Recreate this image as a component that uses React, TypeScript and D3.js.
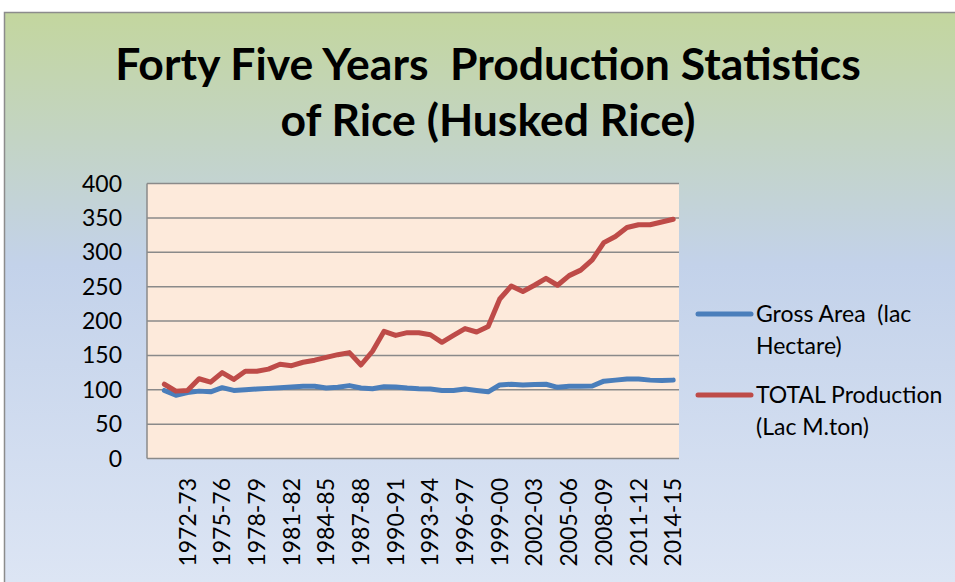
import React from "react";
import * as d3 from "d3";

const categories: string[] = [
  "", "1970-71", "1971-72", "1972-73", "1973-74", "1974-75", "1975-76", "1976-77", "1977-78",
  "1978-79", "1979-80", "1980-81", "1981-82", "1982-83", "1983-84", "1984-85", "1985-86",
  "1986-87", "1987-88", "1988-89", "1989-90", "1990-91", "1991-92", "1992-93", "1993-94",
  "1994-95", "1995-96", "1996-97", "1997-98", "1998-99", "1999-00", "2000-01", "2001-02",
  "2002-03", "2003-04", "2004-05", "2005-06", "2006-07", "2007-08", "2008-09", "2009-10",
  "2010-11", "2011-12", "2012-13", "2013-14", "2014-15",
];

const grossArea: (number | null)[] = [
  null, 99, 92, 96, 98, 97, 103, 99, 100, 101, 102, 103, 104, 105, 105, 102.5, 103.5,
  106, 102.5, 101.5, 104.5, 104, 102.5, 101.5, 101, 99, 99, 101, 99, 97, 107, 108, 107,
  107.5, 108, 103.5, 105, 105, 105.5, 112.5, 114, 115.5, 115.5, 114, 113.5, 114,
];

const totalProduction: (number | null)[] = [
  null, 108, 98, 99, 116, 111, 125, 115, 127, 127, 130, 137, 135, 140, 143, 147, 151,
  154, 136, 156, 185, 179, 183, 183, 180, 169, 179, 189, 184, 192, 232, 251, 243,
  252, 262, 252, 266, 274, 289, 314, 323, 336, 340, 340, 344, 348,
];

const yTicks: number[] = [0, 50, 100, 150, 200, 250, 300, 350, 400];

const titleLines: string[] = ["Forty Five Years  Production Statistics", "of Rice (Husked Rice)"];

const legendItems = [
  { lines: ["Gross Area  (lac", "Hectare)"], color: "#4a7ebb" },
  { lines: ["TOTAL Production", "(Lac M.ton)"], color: "#be4b48" },
];

const FONT = "Lato, 'Open Sans', sans-serif";

export default function App() {
  const W = 955;
  const H = 582;
  const plot = { left: 147, right: 679, top: 183.5, bottom: 458.5 };

  const x = d3
    .scaleBand<number>()
    .domain(categories.map((_, i) => i))
    .range([plot.left, plot.right])
    .padding(0);
  const bw = x.bandwidth();
  const y = d3.scaleLinear().domain([0, 400]).range([plot.bottom, plot.top]);

  const line = d3
    .line<number | null>()
    .defined((d) => d != null)
    .x((_, i) => (x(i) as number) + bw / 2)
    .y((d) => y(d as number));

  const series = [
    { values: grossArea, color: "#4a7ebb" },
    { values: totalProduction, color: "#be4b48" },
  ];

  return (
    <svg
      width={W}
      height={H}
      style={{ position: "absolute", left: 0, top: 0, display: "block", whiteSpace: "pre" }}
    >
      <defs>
        <linearGradient id="bg" x1="0" y1="0" x2="0" y2="1">
          <stop offset="0%" stopColor="#c3d69e" />
          <stop offset="42%" stopColor="#c3d2ea" />
          <stop offset="100%" stopColor="#dfe7f5" />
        </linearGradient>
      </defs>
      <rect x={0} y={0} width={W} height={H} fill="#ffffff" />
      <rect
        x={4.5}
        y={12.5}
        width={W + 20}
        height={H + 20}
        fill="url(#bg)"
        stroke="#8c8c8c"
        strokeWidth={1.5}
      />

      {titleLines.map((t, i) => (
        <text
          key={i}
          x={488}
          y={80 + i * 56}
          textAnchor="middle"
          fontFamily={FONT}
          fontWeight={700}
          fontSize={44.5}
          fill="#000"
          style={{ whiteSpace: "pre" }}
        >
          {t}
        </text>
      ))}

      <rect
        x={plot.left}
        y={plot.top}
        width={plot.right - plot.left}
        height={plot.bottom - plot.top}
        fill="#fdeadb"
      />
      {yTicks.map((t) => (
        <line
          key={t}
          x1={plot.left}
          x2={plot.right}
          y1={y(t)}
          y2={y(t)}
          stroke="#8a8a8a"
          strokeWidth={1.5}
        />
      ))}
      <line
        x1={plot.left}
        x2={plot.left}
        y1={plot.top}
        y2={plot.bottom}
        stroke="#8a8a8a"
        strokeWidth={1.5}
      />

      {yTicks.map((t) => (
        <text
          key={t}
          x={122}
          y={y(t)}
          dy="0.35em"
          textAnchor="end"
          fontFamily={FONT}
          fontSize={23}
          fill="#000"
        >
          {t}
        </text>
      ))}

      {categories.map((c, i) =>
        i % 3 === 0 && c ? (
          <text
            key={i}
            transform={`translate(${(x(i) as number) + bw / 2},${478}) rotate(-90)`}
            dy="0.35em"
            textAnchor="end"
            fontFamily={FONT}
            fontSize={23}
            fill="#000"
          >
            {c}
          </text>
        ) : null
      )}

      {series.map((s, i) => (
        <path
          key={i}
          d={line(s.values) || ""}
          fill="none"
          stroke={s.color}
          strokeWidth={5}
          strokeLinejoin="round"
          strokeLinecap="round"
        />
      ))}

      {legendItems.map((it, i) => {
        const cy = 314 + i * 81;
        return (
          <g key={i}>
            <line
              x1={698}
              x2={751}
              y1={cy}
              y2={cy}
              stroke={it.color}
              strokeWidth={5}
              strokeLinecap="round"
            />
            {it.lines.map((l, j) => (
              <text
                key={j}
                x={756}
                y={cy + j * 32}
                dy="0.35em"
                fontFamily={FONT}
                fontSize={23}
                fill="#000"
                style={{ whiteSpace: "pre" }}
              >
                {l}
              </text>
            ))}
          </g>
        );
      })}
    </svg>
  );
}
